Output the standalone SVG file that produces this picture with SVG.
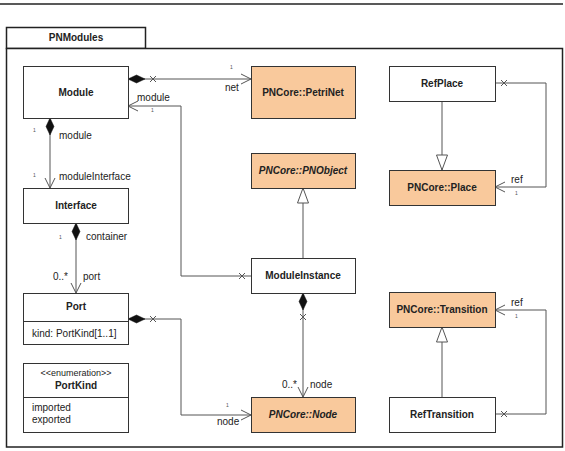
<svg xmlns="http://www.w3.org/2000/svg" width="565" height="451" viewBox="0 0 565 451">
<style>
text{font-family:"Liberation Sans",Arial,sans-serif;font-size:10px;fill:#222}
.b{font-weight:bold}
.bi{font-weight:bold;font-style:italic}
.m{text-anchor:middle}
.box{fill:#fff;stroke:#333;stroke-width:1}
.core{fill:#f9c99c;stroke:#333;stroke-width:1}
.pkg{fill:#fff;stroke:#222;stroke-width:1.5}
.c{fill:none;stroke:#555;stroke-width:1}
.dot{font-size:5px;fill:#555}
</style>
<defs>
<marker id="dia" markerUnits="userSpaceOnUse" markerWidth="20" markerHeight="12" viewBox="0 -6 20 12" refX="0" refY="0" orient="auto">
<path d="M0,0 L8.5,-4 L17,0 L8.5,4 Z" fill="#111" stroke="#111" stroke-width="0.5"/>
</marker>
<marker id="arr" markerUnits="userSpaceOnUse" markerWidth="14" markerHeight="14" viewBox="-12 -7 14 14" refX="0" refY="0" orient="auto">
<path d="M-10,-5 L0,0 L-10,5" fill="none" stroke="#555" stroke-width="1"/>
</marker>
<marker id="gen" markerUnits="userSpaceOnUse" markerWidth="18" markerHeight="14" viewBox="-16 -7 18 14" refX="0" refY="0" orient="auto">
<path d="M0,0 L-15,-5.5 L-15,5.5 Z" fill="#fff" stroke="#555" stroke-width="1"/>
</marker>
<path id="x" d="M-3,-3 L3,3 M-3,3 L3,-3" fill="none" stroke="#555" stroke-width="1"/>
</defs>
<rect width="565" height="451" fill="#fff"/>
<line x1="0" y1="4" x2="563" y2="4" stroke="#222" stroke-width="1.5"/>
<g id="PNModules">
<rect class="pkg" x="6.5" y="27.5" width="139" height="21"/>
<rect class="pkg" x="6.5" y="48.5" width="556" height="398.5"/>
<text class="b m" x="76" y="41">PNModules</text>
</g>
<g id="connectors">
<path class="c" d="M128,79 H251" marker-start="url(#dia)" marker-end="url(#arr)"/>
<use href="#x" x="153" y="79"/>
<text x="225" y="91">net</text>
<text class="dot" x="230" y="69">1</text>
<path class="c" d="M251,276 H181 V106 H128" marker-end="url(#arr)"/>
<use href="#x" x="242" y="276"/>
<text x="137" y="101">module</text>
<text class="dot" x="151" y="112">1</text>
<path class="c" d="M50,118 V188" marker-start="url(#dia)" marker-end="url(#arr)"/>
<text x="59" y="139">module</text>
<text class="dot" x="33" y="132">1</text>
<text x="59" y="180">moduleInterface</text>
<text class="dot" x="33" y="177">1</text>
<path class="c" d="M76,223 V293" marker-start="url(#dia)" marker-end="url(#arr)"/>
<text x="86" y="240">container</text>
<text class="dot" x="59" y="239">1</text>
<text x="53" y="280">0..*</text>
<text x="83" y="280">port</text>
<path class="c" d="M128,319 H181 V415 H251" marker-start="url(#dia)" marker-end="url(#arr)"/>
<use href="#x" x="153" y="319"/>
<text x="217" y="425">node</text>
<text class="dot" x="226" y="407">1</text>
<path class="c" d="M303,258 V188" marker-end="url(#gen)"/>
<path class="c" d="M303,293 V397" marker-start="url(#dia)" marker-end="url(#arr)"/>
<use href="#x" x="303" y="317"/>
<text x="282" y="388">0..*</text>
<text x="310" y="388">node</text>
<path class="c" d="M495,83 H546 V187 H495" marker-end="url(#arr)"/>
<use href="#x" x="504" y="83"/>
<text x="511" y="183">ref</text>
<text class="dot" x="515" y="195">1</text>
<path class="c" d="M442,101 V170" marker-end="url(#gen)"/>
<path class="c" d="M442,397 V327" marker-end="url(#gen)"/>
<path class="c" d="M495,414 H546 V310 H495" marker-end="url(#arr)"/>
<use href="#x" x="504" y="414"/>
<text x="511" y="306">ref</text>
<text class="dot" x="515" y="318">1</text>
</g>
<g id="Module">
<rect class="box" x="23.5" y="66.5" width="105" height="52"/>
<text class="b m" x="76" y="96">Module</text>
</g>
<g id="Interface">
<rect class="box" x="23.5" y="188.5" width="105" height="35"/>
<text class="b m" x="76" y="209">Interface</text>
</g>
<g id="Port">
<rect class="box" x="23.5" y="293.5" width="105" height="51"/>
<line x1="23.5" y1="321.5" x2="128.5" y2="321.5" stroke="#333"/>
<text class="b m" x="76" y="310">Port</text>
<text x="32" y="337">kind: PortKind[1..1]</text>
</g>
<g id="PortKind">
<rect class="box" x="23.5" y="363.5" width="105" height="69"/>
<line x1="23.5" y1="397.5" x2="128.5" y2="397.5" stroke="#333"/>
<text class="m" x="76" y="376" style="font-size:9px">&lt;&lt;enumeration&gt;&gt;</text>
<text class="b m" x="76" y="389">PortKind</text>
<text x="32" y="411">imported</text>
<text x="32" y="423">exported</text>
</g>
<g id="PetriNet">
<rect class="core" x="251.5" y="66.5" width="104" height="52"/>
<text class="b m" x="303" y="96">PNCore::PetriNet</text>
</g>
<g id="PNObject">
<rect class="core" x="251.5" y="153.5" width="104" height="35"/>
<text class="bi m" x="303" y="174">PNCore::PNObject</text>
</g>
<g id="ModuleInstance">
<rect class="box" x="251.5" y="258.5" width="104" height="35"/>
<text class="b m" x="303" y="279">ModuleInstance</text>
</g>
<g id="Node">
<rect class="core" x="251.5" y="397.5" width="104" height="35"/>
<text class="bi m" x="303" y="418">PNCore::Node</text>
</g>
<g id="RefPlace">
<rect class="box" x="389.5" y="66.5" width="106" height="35"/>
<text class="b m" x="442" y="87">RefPlace</text>
</g>
<g id="Place">
<rect class="core" x="389.5" y="170.5" width="106" height="35"/>
<text class="b m" x="442" y="191">PNCore::Place</text>
</g>
<g id="Transition">
<rect class="core" x="389.5" y="292.5" width="106" height="35"/>
<text class="b m" x="442" y="313">PNCore::Transition</text>
</g>
<g id="RefTransition">
<rect class="box" x="389.5" y="397.5" width="106" height="35"/>
<text class="b m" x="442" y="418">RefTransition</text>
</g>
</svg>
